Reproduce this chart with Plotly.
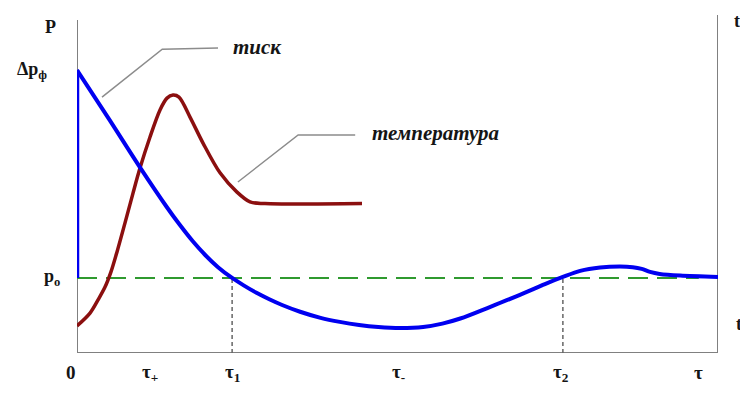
import plotly.graph_objects as go

# ---- data (arbitrary units: x 0..100 = time, y 0..100 = pressure / temperature) ----
p0_level = 22.2
dp_peak = 83.7

blue_jump_x = [0, 0]
blue_jump_y = [p0_level, dp_peak]

blue_x = [0, 5.1, 9.8, 14.0, 16.0, 18.0, 20.0, 22.0, 24.2, 26.0, 28.0, 30.0, 32.0, 34.8,
          38.0, 41.0, 44.0, 47.0, 50.4, 54.0, 57.0, 59.8, 64.4, 69.1, 73.0, 75.8, 78.5,
          81.6, 84.7, 86.7, 88.1, 89.4, 90.9, 94.1, 100]
blue_y = [83.7, 68.9, 55.0, 43.2, 38.0, 33.2, 29.0, 25.4, 22.2, 20.0, 17.8, 15.9, 14.2, 12.2,
          10.4, 9.2, 8.3, 7.7, 7.4, 7.7, 8.7, 10.2, 13.6, 17.2, 20.4, 22.5, 24.3,
          25.3, 25.6, 25.4, 24.9, 24.0, 23.4, 22.9, 22.5]

red_x = [0, 2.03, 3.28, 4.37, 5.30, 6.24, 7.49, 8.74, 9.83, 11.39, 12.95, 14.04, 14.98, 15.91,
         17.63, 19.66, 22.31, 24.96, 26.99, 29.33, 44.46]
red_y = [8.0, 11.8, 15.7, 19.5, 24.0, 29.9, 38.5, 47.3, 54.7, 63.9, 71.9, 75.4, 76.3, 75.7,
         69.8, 62.1, 53.3, 47.6, 44.7, 44.2, 44.2]

tau1 = 24.2
tau2 = 75.8

x_tick_pos = [-0.9, 11.4, 24.2, 50.1, 75.5, 97.0]
x_tick_text = ["0", "τ<sub>+</sub>", "τ<sub>1</sub>", "τ<sub>-</sub>", "τ<sub>2</sub>", "τ"]

left_label_x = [-4.2, -7.0, -3.9]
left_label_y = [96.4, 83.7, 22.2]
left_label_text = ["P", "Δp<sub>ф</sub>", "p<sub>o</sub>"]

right_label_x = [103.0, 103.7]
right_label_y = [98.2, 8.0]
right_label_text = ["t", "t<sub>o</sub>"]

leader1_x = [3.9, 13.3, 22.0]
leader1_y = [75.7, 89.9, 90.2]
leader2_x = [25.1, 34.5, 43.4]
leader2_y = [50.6, 64.5, 64.5]

curve_labels = ["тиск", "температура"]
curve_label_x = [28.1, 55.9]
curve_label_y = [90.5, 65.1]

FONT = "Liberation Serif"
GRAY = "#808080"
TEXT = "#151515"
X_RANGE = [0, 100]
Y_RANGE = [0, 100]


def px(x):
    return (x - X_RANGE[0]) / (X_RANGE[1] - X_RANGE[0])


def py(y):
    return (y - Y_RANGE[0]) / (Y_RANGE[1] - Y_RANGE[0])


fig = go.Figure()

# axes
fig.add_trace(go.Scatter(x=[0, 0, 100, 100], y=[98.5, 0, 0, 100], mode="lines",
                         line=dict(color=GRAY, width=2), hoverinfo="skip"))
# dashed verticals
for t in [tau1, tau2]:
    fig.add_trace(go.Scatter(x=[t, t], y=[0, p0_level], mode="lines",
                             line=dict(color="#666666", width=1.5, dash="4px,3px"), hoverinfo="skip"))
# green p0 line
fig.add_trace(go.Scatter(x=[0, 97], y=[p0_level, p0_level], mode="lines",
                         line=dict(color="#2f9a2f", width=2, dash="20px,9px"), hoverinfo="skip"))
# leader lines
fig.add_trace(go.Scatter(x=leader1_x, y=leader1_y, mode="lines",
                         line=dict(color="#8c8c8c", width=1.5), hoverinfo="skip"))
fig.add_trace(go.Scatter(x=leader2_x, y=leader2_y, mode="lines",
                         line=dict(color="#8c8c8c", width=1.5), hoverinfo="skip"))
# temperature
fig.add_trace(go.Scatter(x=red_x, y=red_y, mode="lines", line_shape="spline",
                         line=dict(color="#8b0f0f", width=3.5, smoothing=0.9), hoverinfo="skip"))
# pressure
fig.add_trace(go.Scatter(x=blue_jump_x, y=blue_jump_y, mode="lines",
                         line=dict(color="#0000f0", width=4.5), hoverinfo="skip"))
fig.add_trace(go.Scatter(x=blue_x, y=blue_y, mode="lines", line_shape="spline",
                         line=dict(color="#0000f0", width=4, smoothing=0.9), hoverinfo="skip"))

ann = []
for x, t in zip(x_tick_pos, x_tick_text):
    ann.append(dict(x=px(x), y=py(-5.8), text="<b>" + t + "</b>",
                    font=dict(family=FONT, size=19, color=TEXT)))
for x, y, t in zip(left_label_x + right_label_x, left_label_y + right_label_y,
                   left_label_text + right_label_text):
    ann.append(dict(x=px(x), y=py(y), text="<b>" + t + "</b>",
                    font=dict(family=FONT, size=18, color=TEXT)))
for x, y, t in zip(curve_label_x, curve_label_y, curve_labels):
    ann.append(dict(x=px(x), y=py(y), text="<b><i>" + t + "</i></b>",
                    font=dict(family=FONT, size=21, color=TEXT)))
for a in ann:
    a.update(xref="paper", yref="paper", showarrow=False, xanchor="center", yanchor="middle")

# page body has an 8px margin: shrink the figure so the plot lands where it should
fig.update_layout(
    width=740, height=386,
    margin=dict(l=69, r=30, t=7, b=41),
    paper_bgcolor="white", plot_bgcolor="white",
    showlegend=False,
    xaxis=dict(range=X_RANGE, visible=False, fixedrange=True),
    yaxis=dict(range=Y_RANGE, visible=False, fixedrange=True),
    annotations=ann,
)
fig.update_traces(cliponaxis=False)

fig.write_html("out.html")
